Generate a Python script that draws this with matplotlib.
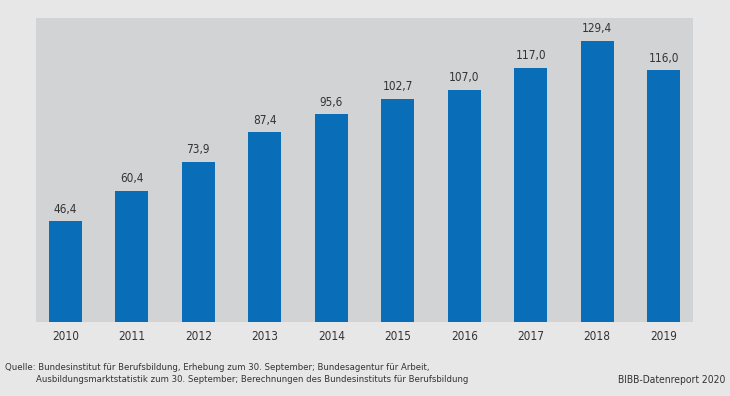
import matplotlib
matplotlib.use("Agg")
import matplotlib.pyplot as plt

years = ["2010", "2011", "2012", "2013", "2014", "2015", "2016", "2017", "2018", "2019"]
values = [46.4, 60.4, 73.9, 87.4, 95.6, 102.7, 107.0, 117.0, 129.4, 116.0]
labels = ["46,4", "60,4", "73,9", "87,4", "95,6", "102,7", "107,0", "117,0", "129,4", "116,0"]

plt.rcParams['font.family'] = ['DejaVu Sans']
plt.rcParams['font.stretch'] = 'condensed'

W, H = 730, 396
fig = plt.figure(figsize=(W/100, H/100), dpi=100)
fig.patch.set_facecolor('#e7e7e8')
ax = fig.add_axes([36/W, 1-322/H, (693-36)/W, (322-18)/H])
ax.set_facecolor('#d2d3d5')
x = list(range(len(years)))
ax.bar(x, values, width=0.5, color='#0a6db7', zorder=2)
for xi, v, l in zip(x, values, labels):
    ax.annotate(l, (xi, v), xytext=(0, 4), textcoords='offset points',
                ha='center', va='bottom', fontsize=8.5, color='#333333')
ax.set_xlim(-0.44, 9.44)
ax.set_ylim(0, 140)
ax.set_yticks([])
ax.set_xticks(x)
ax.set_xticklabels(years, fontsize=8.5, color='#333333')
ax.tick_params(axis='x', length=0, pad=6)
for s in ax.spines.values():
    s.set_visible(False)

fig.text(5/W, 1-367/H, "Quelle: Bundesinstitut für Berufsbildung, Erhebung zum 30. September; Bundesagentur für Arbeit,",
         fontsize=6.8, color='#333333', va='center', ha='left')
fig.text(36/W, 1-380/H, "Ausbildungsmarktstatistik zum 30. September; Berechnungen des Bundesinstituts für Berufsbildung",
         fontsize=6.8, color='#333333', va='center', ha='left')
fig.text(725/W, 1-380/H, "BIBB-Datenreport 2020", fontsize=7.4, color='#333333', va='center', ha='right')

fig.savefig("out.png", dpi=100, facecolor=fig.get_facecolor())
